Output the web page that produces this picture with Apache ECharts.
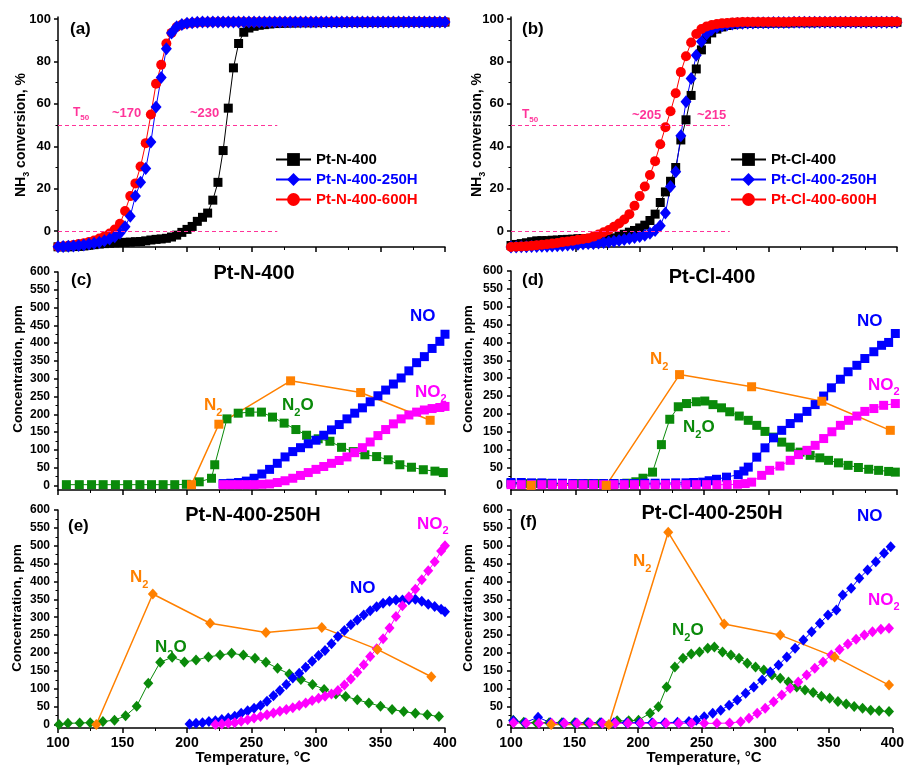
<!DOCTYPE html>
<html>
<head>
<meta charset="utf-8">
<script src="https://cdn.jsdelivr.net/npm/echarts@6.0.0/dist/echarts.min.js"></script>
<style>
    html, body { margin: 0; padding: 0; background: #fff; }
    #chart { width: 907px; height: 771px; }
</style>
</head>
<body>
<div id="chart"></div>
<script>
    // ---- data ----
    // (a) / (b): NH3 conversion, %, common temperature grid
    const tempAB = [100,104,108,112,116,120,124,128,132,136,140,144,148,152,156,160,164,168,172,176,180,184,188,192,196,200,204,208,212,216,220,224,228,232,236,240,244,248,252,256,260,264,268,272,276,280,284,288,292,296,300,304,308,312,316,320,324,328,332,336,340,344,348,352,356,360,364,368,372,376,380,384,388,392,396,400];

    const aBlack = [-7.4,-7.4,-7.4,-7.3,-7.2,-7.0,-6.7,-6.4,-6.1,-5.9, -5.7,-5.5,-5.4,-5.3,-5.2,-5.0,-4.9,-4.6,-4.2,-3.9,
        -3.7,-3.4,-2.8,-1.9,-0.6,0.8,2.2,4.6,6.5,8.5, 14.6,23,38,58,77,88.5,93.8,95.8,96.6,97.1,
        97.4,97.7,97.9,98.0,98.1,98.2,98.2,98.3,98.3,98.3, 98.3,98.4,98.4,98.4,98.4,98.4,98.5,98.5,98.5,98.5,
        98.5,98.5,98.5,98.5,98.5,98.5,98.6,98.6,98.6,98.6, 98.6,98.6,98.6,98.6,98.6,98.6];
    const aBlue = [-7.4,-7.3,-7.2,-7.0,-6.8,-6.5,-6.1,-5.7,-5.3,-4.6, -3.7,-2.7,-1.0,2.0,7.0,16.5,23,29.5,42,58.5,
        72.5,86,93.5,96.4,97.5,98.0,98.3,98.5,98.6,98.6, 98.6,98.7,98.7,98.7,98.7,98.7,98.7,98.7,98.7,98.7,
        98.7,98.7,98.7,98.7,98.7,98.7,98.7,98.7,98.7,98.7, 98.7,98.7,98.7,98.7,98.7,98.7,98.7,98.7,98.7,98.7,
        98.7,98.7,98.7,98.7,98.7,98.7,98.7,98.7,98.7,98.7, 98.7,98.7,98.7,98.7,98.7,98.7];
    const aRed = [-7.4,-7.2,-6.9,-6.5,-6.1,-5.7,-5.1,-4.4,-3.5,-2.5, -1.1,0.7,3.5,9.5,16.5,22.5,30.5,41.5,55,69.5,
        78.5,88.5,93.5,96.3,97.4,97.9,98.2,98.4,98.5,98.5, 98.6,98.6,98.6,98.6,98.6,98.7,98.7,98.7,98.7,98.7,
        98.7,98.7,98.7,98.7,98.7,98.7,98.7,98.7,98.7,98.7, 98.7,98.7,98.7,98.7,98.7,98.7,98.7,98.7,98.7,98.7,
        98.7,98.7,98.7,98.7,98.7,98.7,98.7,98.7,98.7,98.7, 98.7,98.7,98.7,98.7,98.7,98.7];

    const bBlack = [-6.8,-6.3,-5.9,-5.5,-5.0,-4.6,-4.5,-4.5,-4.3,-4.2, -4.0,-3.9,-3.8,-3.6,-3.5,-3.8,-4.0,-4.2,-4.2,-3.8,
        -3.2,-2.3,-1.5,-0.5,0.3,1.5,2.8,5.0,8.0,13.5, 18.5,23.5,30,43,52.5,64,76.5,85.5,90.5,93.5,
        95.3,96.3,97.0,97.4,97.7,97.9,98.0,98.0,98.1,98.1, 98.1,98.2,98.2,98.2,98.2,98.3,98.3,98.3,98.3,98.3,
        98.4,98.4,98.4,98.4,98.4,98.4,98.5,98.5,98.5,98.5, 98.5,98.5,98.5,98.5,98.5,98.5];
    const bBlue = [-7.5,-7.5,-7.4,-7.4,-7.3,-7.3,-7.2,-7.1,-7.0,-6.9, -6.8,-6.6,-6.4,-6.2,-6.0,-5.9,-5.8,-5.6,-5.4,-5.1,
        -4.8,-4.4,-4.0,-3.5,-3.0,-2.5,-1.9,-1.0,0.3,2.5, 8.5,21,28,45,61,72,83,89.5,93,95,
        96.2,96.9,97.4,97.7,97.9,98.1,98.2,98.2,98.3,98.3, 98.3,98.4,98.4,98.4,98.4,98.5,98.5,98.5,98.5,98.5,
        98.5,98.5,98.5,98.5,98.5,98.5,98.5,98.5,98.5,98.5, 98.5,98.5,98.5,98.5,98.5,98.5];
    const bRed = [-7.5,-7.4,-7.3,-7.1,-6.9,-6.7,-6.4,-6.2,-5.9,-5.6, -5.2,-4.9,-4.5,-4.1,-3.7,-3.4,-2.6,-1.6,-0.5,0.5,
        2,3.6,5.5,8,12,16.5,21,26.5,33,41, 49,56.5,65,75,82.5,89,93,95.3,96.5,97.2,
        97.7,98.0,98.2,98.4,98.5,98.6,98.6,98.7,98.7,98.7, 98.7,98.7,98.7,98.7,98.7,98.8,98.8,98.8,98.8,98.8,
        98.8,98.8,98.8,98.8,98.8,98.8,98.8,98.8,98.8,98.8, 98.8,98.8,98.8,98.8,98.8,98.8];

    // T50 reference lines [xStart, xEnd, y]
    const t50Lines = [[100, 270, 50], [100, 270, 0]];

    // (c) Pt-N-400, [T, ppm]
    const cN2 = [[203.5,2],[224.7,172],[280.3,294],[334.6,261],[388.5,183]];
    const cN2O = [[106.5,2],[116.5,2],[126,2],[135,2],[144.5,2],[154,2],[163.5,2],[172.5,2],[181.5,2],[190.5,2],[199.5,3],[209.5,10],[219,20],[221.5,58],[231,187],[239.7,203],[248.7,206],[257.7,206],[266.3,192],[275.3,175],[284.4,157],[292.7,141],[301.7,131],[310.8,124],[319.8,107],[328.9,95],[337.9,86],[347,81],[356,72],[365,58],[374,51],[383.2,44],[392.2,40],[398.7,36]];
    const cNO = [[228,5],[234,6],[240,8],[246,12],[252,20],[258,32],[264,45],[270,62],[276,80],[282,95],[288,106],[294,117],[300,127],[306,141],[312,156],[318,171],[324,187],[330,203],[336,218],[342,235],[348,252],[354,268],[360,285],[366,302],[372,322],[378,345],[384,362],[390,385],[396,405],[400,425]];
    const cNO2 = [[228,2],[234,2],[240,2],[246,2],[252,2],[258,3],[264,4],[270,8],[276,13],[282,20],[288,28],[294,36],[300,45],[306,53],[312,62],[318,70],[324,80],[330,92],[336,106],[342,122],[348,140],[354,157],[360,173],[366,187],[372,198],[378,206],[384,212],[390,216],[396,219],[400,222]];

    // (d) Pt-Cl-400
    const dN2 = [[115.6,0],[174,0],[231,310],[287,276],[341.6,235.5],[394.8,154]];
    const dN2O = [[100,5],[110,5],[120,5],[130,5],[140,5],[150,5],[160,5],[170,5],[180,5],[190,6],[197,10],[202.6,20],[210,37],[216.9,114],[223.4,185],[230,220],[236.4,229],[244,234],[250.6,236],[257,226],[263.6,217],[270,206],[277.4,194],[284.4,182],[291,168],[297.4,151],[304,135],[310.4,121],[317,107],[324.7,93],[332.5,84],[340,77],[346.8,70],[354.5,63],[362,56],[370,50],[378,45],[385.7,42],[393.5,39],[398.7,37]];
    const dNO = [[100,8],[108,8],[116,7],[124,7],[132,6],[140,6],[148,5],[156,5],[164,5],[172,5],[180,5],[188,5],[196,5],[204,6],[212,6],[220,6],[228,7],[236,7],[242,8],[249,9],[254,13],[259.7,17],[267.5,23],[276.6,30],[281,40],[284.4,51],[291,79],[297.4,105],[304,133],[310.4,154],[317,173],[323.4,189],[330,207],[336.4,226],[343,250],[349,273],[356,297],[362,318],[368.8,336],[375,355],[382,374],[388,392],[393.5,400],[398.7,425]];
    const dNO2 = [[100,2],[108,2],[116,2],[124,2],[132,2],[140,2],[148,2],[156,2],[164,2],[172,2],[180,2],[188,2],[196,2],[204,2],[212,2],[220,2],[228,2],[236,2],[244,2],[252,2],[260,2],[268,2],[276,3],[282,5],[287,9],[294.8,28],[301,42],[309,54],[317,70],[323.4,86],[330,98],[336.4,112],[343,131],[349.4,150],[356,168],[362.3,182],[368.8,194],[375,207],[382,215],[389.6,224],[398.7,229]];

    // (e) Pt-N-400-250H
    const eN2 = [[129.7,0],[173.5,365],[217.9,283],[261.2,257.5],[304.5,271.5],[347.6,210],[389.4,133.5]];
    const eN2O = [[100.8,0],[107.7,3],[116.8,4],[125,5],[134.8,8],[143.8,12],[152.4,24],[161,51],[170,115],[179.2,174],[188.5,188],[198,175],[207,180],[216.6,189],[225.6,194],[234.6,199],[243.7,194],[252.7,185],[261.2,174],[270.2,157],[279.3,141],[288.3,126],[297.3,112],[306.3,98],[315.4,85],[323,78],[332,69],[341,60],[350,51],[359,42],[368,36],[377,31],[386.3,27],[395.3,22]];
    const eNO = [[202,1],[207,3],[212,5],[217,8],[222,10],[227,14],[232,18],[237,23],[242,31],[247,38],[252,45],[257,53],[262,65],[267,80],[272,95],[277,112],[282,130],[287,143],[292,160],[297,177],[302,193],[307,207],[312,226],[317,246],[322,263],[327,279],[332,292],[337,306],[342,318],[347,329],[352,339],[357,345],[362,348],[367,348],[372,349],[377,350],[382,345],[387,336],[392,330],[397,322],[400,315]];
    const eNO2 = [[222,0],[227,1],[232,3],[237,5],[242,9],[247,13],[252,18],[257,22],[262,27],[267,32],[272,37],[277,42],[282,47],[287,53],[292,60],[297,67],[302,73],[307,79],[312,85],[317,95],[322,110],[327,127],[332,146],[337,167],[342,190],[347,212],[352,240],[357,270],[362,302],[367,332],[372,357],[377,378],[382,405],[387,430],[392,455],[397,485],[400,500]];

    // (f) Pt-Cl-400-250H
    const fN2 = [[131.6,0],[177,0],[223.7,537.5],[267.7,281],[311.8,250],[354.6,189],[397.4,110]];
    const fN2O = [[101.8,12],[110,6],[120,5],[130,5],[140,5],[150,5],[160,5],[170,5],[183.5,10],[192.6,10],[200.3,12],[209.4,31],[216,49.5],[222.4,105],[228.9,161],[235.3,185],[241.8,197],[248.3,203],[254.8,213],[260,217],[266.4,203],[273,194],[279.4,185],[285.9,171],[292.4,161],[298.9,152],[305.3,138],[311.8,129],[318.3,119],[324.8,105],[331.3,96],[337.7,89],[344.2,79],[350.7,73],[357.2,64],[363.7,57],[370,50],[376.6,45],[383,40],[389.6,38],[397.4,36]];
    const fNO = [[101.8,10],[111,5],[121.3,20],[131,5],[141,5],[151,5],[161,5],[171,5],[181,5],[191,5],[201,5],[211,5],[221,5],[231,6],[240,8],[245.7,12],[252,21.5],[258.7,31],[265,40],[271.6,54],[278,68],[284.6,87],[291,105],[297.6,124],[304,147],[310.5,166],[317,189],[323.5,213],[330,236],[336.5,259],[343,283],[349.4,306],[356,320],[361,362],[367.6,381],[374,409],[380.5,432],[387,455],[393.5,479],[398.7,497]];
    const fNO2 = [[102,5],[112,3],[122,3],[132,3],[142,3],[152,3],[162,3],[172,3],[182,3],[192,3],[202,3],[212,3],[222,3],[232,3],[242,3],[252,3],[262,3],[272,4],[280.7,7.5],[287.2,17],[293.7,31],[300,45],[306.6,63.5],[313,82],[319.6,101],[326,119],[332.6,138],[339,157],[345.5,175],[352,194],[358.5,210],[365,225],[371.5,238],[378,250],[384.4,259],[391,266],[397.4,269]];

    // tick values
    const convTicks = [0, 20, 40, 60, 80, 100];
    const convMinor = [10, 30, 50, 70, 90];
    const ppmTicks = [0, 50, 100, 150, 200, 250, 300, 350, 400, 450, 500, 550, 600];
    const ppmMinor = [25, 75, 125, 175, 225, 275, 325, 375, 425, 475, 525, 575];

    // ---- chart ----
    const FONT = "'Liberation Sans', Arial, Helvetica, sans-serif";
    const C = {black: '#000000', blue: '#0000ff', red: '#ff0000', green: '#0a8a0a', orange: '#ff8000', magenta: '#ff00ff', pink: '#ff3399'};

    const grids = [
        {left: 58, top: 17, width: 387, height: 230},
        {left: 511, top: 17, width: 386, height: 230},
        {left: 58, top: 272, width: 387, height: 218},
        {left: 511, top: 271, width: 386, height: 219},
        {left: 58, top: 510, width: 387, height: 218},
        {left: 511, top: 510, width: 386, height: 218}
    ];
    const yRanges = [[-7.5, 101], [-7.5, 101], [-13, 600], [-13, 600], [-10, 600], [-10, 600]];

    function zip(xs, ys) {
        return xs.map((x, i) => [x, ys[i]]);
    }

    const xAxes = grids.map((g, gi) => ({
        type: 'value',
        gridIndex: gi,
        min: 100,
        max: 400,
        interval: 50,
        axisLine: {show: true, onZero: false, lineStyle: {color: '#000', width: 1.5}},
        axisTick: {show: true, length: 5, lineStyle: {color: '#000', width: 1.5}},
        minorTick: {show: true, splitNumber: 2, length: 3, lineStyle: {color: '#000', width: 1}},
        splitLine: {show: false},
        minorSplitLine: {show: false},
        axisLabel: {show: gi >= 4, color: '#000', fontSize: 14, fontWeight: 'bold', fontFamily: FONT, margin: 8}
    }));

    const yAxes = [];
    grids.forEach((g, gi) => {
        const conv = gi < 2;
        yAxes.push({
            type: 'value',
            gridIndex: gi,
            position: 'left',
            min: yRanges[gi][0],
            max: yRanges[gi][1],
            axisLine: {show: true, onZero: false, lineStyle: {color: '#000', width: 1.5}},
            axisTick: {show: true, length: 4, customValues: conv ? convTicks : ppmTicks, lineStyle: {color: '#000', width: 1.5}},
            axisLabel: {
                customValues: conv ? convTicks : ppmTicks,
                color: '#000', fontWeight: 'bold', fontFamily: FONT,
                fontSize: conv ? 13 : 12,
                margin: conv ? 7 : 8
            },
            splitLine: {show: false}
        });
        // minor ticks only
        yAxes.push({
            type: 'value',
            gridIndex: gi,
            position: 'left',
            min: yRanges[gi][0],
            max: yRanges[gi][1],
            axisLine: {show: false},
            axisTick: {show: true, length: 2.5, customValues: conv ? convMinor : ppmMinor, lineStyle: {color: '#000', width: 1}},
            axisLabel: {show: false},
            splitLine: {show: false}
        });
    });

    function ser(name, gi, data, color, symbol, size, width) {
        return {
            type: 'line',
            name: name,
            xAxisIndex: gi,
            yAxisIndex: gi * 2,
            data: data,
            symbol: symbol,
            symbolSize: size,
            showSymbol: true,
            lineStyle: {color: color, width: width || 1},
            itemStyle: {color: color},
            emphasis: {disabled: true}
        };
    }

    const t50Mark = {
        silent: true,
        symbol: 'none',
        label: {show: false},
        lineStyle: {color: C.pink, type: [4, 3], width: 1},
        data: t50Lines.map(l => [{coord: [l[0], l[2]]}, {coord: [l[1], l[2]]}])
    };

    const SQ = 9;
    const CIR = 10;
    const DIA = [11, 13];
    const DIA2 = [10, 11];

    const sA1 = ser('Pt-N-400', 0, zip(tempAB, aBlack), C.black, 'rect', SQ);
    sA1.markLine = t50Mark;
    const sB1 = ser('Pt-Cl-400', 1, zip(tempAB, bBlack), C.black, 'rect', SQ);
    sB1.markLine = t50Mark;

    const series = [
        sA1,
        ser('Pt-N-400-600H', 0, zip(tempAB, aRed), C.red, 'circle', CIR),
        ser('Pt-N-400-250H', 0, zip(tempAB, aBlue), C.blue, 'diamond', DIA),
        sB1,
        ser('Pt-Cl-400-250H', 1, zip(tempAB, bBlue), C.blue, 'diamond', DIA),
        ser('Pt-Cl-400-600H', 1, zip(tempAB, bRed), C.red, 'circle', CIR),

        ser('c N2O', 2, cN2O, C.green, 'rect', SQ),
        ser('c NO', 2, cNO, C.blue, 'rect', SQ),
        ser('c NO2', 2, cNO2, C.magenta, 'rect', SQ),
        ser('c N2', 2, cN2, C.orange, 'rect', SQ, 1.5),

        ser('d N2O', 3, dN2O, C.green, 'rect', SQ),
        ser('d NO', 3, dNO, C.blue, 'rect', SQ),
        ser('d NO2', 3, dNO2, C.magenta, 'rect', SQ),
        ser('d N2', 3, dN2, C.orange, 'rect', SQ, 1.5),

        ser('e N2O', 4, eN2O, C.green, 'diamond', DIA2),
        ser('e NO', 4, eNO, C.blue, 'diamond', DIA2),
        ser('e NO2', 4, eNO2, C.magenta, 'diamond', DIA2),
        ser('e N2', 4, eN2, C.orange, 'diamond', DIA2, 1.5),

        ser('f N2O', 5, fN2O, C.green, 'diamond', DIA2),
        ser('f NO', 5, fNO, C.blue, 'diamond', DIA2),
        ser('f NO2', 5, fNO2, C.magenta, 'diamond', DIA2),
        ser('f N2', 5, fN2, C.orange, 'diamond', DIA2, 1.5)
    ];

    function legendBlock(left, names, colors) {
        return {
            left: left,
            top: 147,
            orient: 'vertical',
            itemWidth: 35,
            itemHeight: 16,
            itemGap: 5,
            selectedMode: false,
            textStyle: {fontSize: 15, fontWeight: 'bold', fontFamily: FONT},
            data: names.map((n, i) => ({name: n, textStyle: {color: colors[i]}}))
        };
    }

    // text with optional subscripts: "{m|N}{s|2}{m|O}"
    function txt(x, y, text, color, size, subSize, dy, opt) {
        opt = opt || {};
        const s = subSize || Math.round(size * 0.65);
        const pad = (dy || 7) + size / 2 - s / 2;
        return {
            type: 'text',
            x: x,
            y: opt.rot ? y : y - size / 2,
            rotation: opt.rot || 0,
            z: 100,
            silent: true,
            style: {
                text: text,
                fill: color,
                font: 'bold ' + size + 'px ' + FONT,
                align: opt.align || 'left',
                verticalAlign: opt.rot ? 'middle' : 'top',
                rich: {
                    m: {fontSize: size, fontWeight: 'bold', fontFamily: FONT, lineHeight: size, verticalAlign: 'top', fill: color},
                    s: {fontSize: s, fontWeight: 'bold', fontFamily: FONT, lineHeight: s, verticalAlign: 'top', padding: [pad, 0, 0, 0], fill: color}
                }
            }
        };
    }

    const ROT = Math.PI / 2;
    const graphics = [
        // panel letters
        txt(70, 29, '{m|(a)}', C.black, 17),
        txt(522, 29, '{m|(b)}', C.black, 17),
        txt(71, 280, '{m|(c)}', C.black, 17),
        txt(522, 280, '{m|(d)}', C.black, 17),
        txt(68, 526, '{m|(e)}', C.black, 17),
        txt(520, 522, '{m|(f)}', C.black, 17),
        // titles
        txt(254, 273, '{m|Pt-N-400}', C.black, 20, 0, 0, {align: 'center'}),
        txt(712, 277, '{m|Pt-Cl-400}', C.black, 20, 0, 0, {align: 'center'}),
        txt(253, 515, '{m|Pt-N-400-250H}', C.black, 20, 0, 0, {align: 'center'}),
        txt(712, 513, '{m|Pt-Cl-400-250H}', C.black, 20, 0, 0, {align: 'center'}),
        // T50 annotations
        txt(73, 113, '{m|T}{s|50}', C.pink, 12, 8, 5),
        txt(112, 113, '{m|~170}', C.pink, 13),
        txt(190, 113, '{m|~230}', C.pink, 13),
        txt(522, 115, '{m|T}{s|50}', C.pink, 12, 8, 5),
        txt(632, 115, '{m|~205}', C.pink, 13),
        txt(697, 115, '{m|~215}', C.pink, 13),
        // species labels (c)
        txt(204, 405, '{m|N}{s|2}', C.orange, 17, 11, 8),
        txt(282, 405, '{m|N}{s|2}{m|O}', C.green, 17, 11, 8),
        txt(410, 316, '{m|NO}', C.blue, 17),
        txt(415, 392, '{m|NO}{s|2}', C.magenta, 17, 11, 7),
        // (d)
        txt(650, 359, '{m|N}{s|2}', C.orange, 17, 11, 8),
        txt(683, 427, '{m|N}{s|2}{m|O}', C.green, 17, 11, 8),
        txt(857, 321, '{m|NO}', C.blue, 17),
        txt(868, 385, '{m|NO}{s|2}', C.magenta, 17, 11, 7),
        // (e)
        txt(130, 577, '{m|N}{s|2}', C.orange, 17, 11, 8),
        txt(155, 647, '{m|N}{s|2}{m|O}', C.green, 17, 11, 8),
        txt(350, 588, '{m|NO}', C.blue, 17),
        txt(417, 524, '{m|NO}{s|2}', C.magenta, 17, 11, 7),
        // (f)
        txt(633, 561, '{m|N}{s|2}', C.orange, 17, 11, 8),
        txt(672, 630, '{m|N}{s|2}{m|O}', C.green, 17, 11, 8),
        txt(857, 516, '{m|NO}', C.blue, 17),
        txt(868, 600, '{m|NO}{s|2}', C.magenta, 17, 11, 7),
        // axis names
        txt(21, 135, '{m|NH}{s|3}{m| conversion, %}', C.black, 14, 9, 6, {rot: ROT, align: 'center'}),
        txt(477, 135, '{m|NH}{s|3}{m| conversion, %}', C.black, 14, 9, 6, {rot: ROT, align: 'center'}),
        txt(18, 369, '{m|Concentration, ppm}', C.black, 13.5, 0, 0, {rot: ROT, align: 'center'}),
        txt(468, 369, '{m|Concentration, ppm}', C.black, 13.5, 0, 0, {rot: ROT, align: 'center'}),
        txt(17, 608, '{m|Concentration, ppm}', C.black, 13.5, 0, 0, {rot: ROT, align: 'center'}),
        txt(468, 608, '{m|Concentration, ppm}', C.black, 13.5, 0, 0, {rot: ROT, align: 'center'}),
        txt(253, 758, '{m|Temperature, °C}', C.black, 15, 0, 0, {align: 'center'}),
        txt(704, 758, '{m|Temperature, °C}', C.black, 15, 0, 0, {align: 'center'})
    ];

    const chart = echarts.init(document.getElementById('chart'), null, {renderer: 'canvas'});
    chart.setOption({
        animation: false,
        backgroundColor: '#ffffff',
        textStyle: {fontFamily: FONT},
        grid: grids,
        xAxis: xAxes,
        yAxis: yAxes,
        legend: [
            legendBlock(270, ['Pt-N-400', 'Pt-N-400-250H', 'Pt-N-400-600H'], [C.black, C.blue, C.red]),
            legendBlock(725, ['Pt-Cl-400', 'Pt-Cl-400-250H', 'Pt-Cl-400-600H'], [C.black, C.blue, C.red])
        ],
        series: series,
        graphic: graphics
    });
</script>
</body>
</html>
